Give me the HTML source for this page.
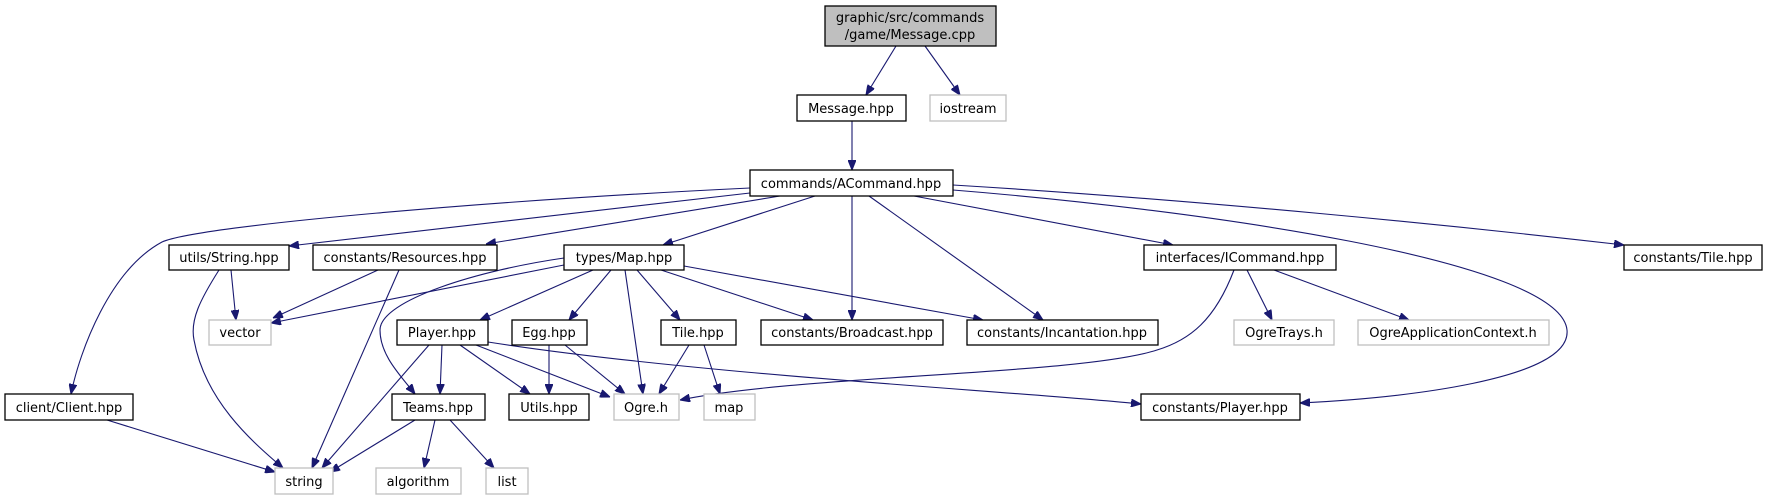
<!DOCTYPE html>
<html><head><meta charset="utf-8"><style>
html,body{margin:0;padding:0;background:#fff;}
svg{display:block;}
text{font-family:"DejaVu Sans","Liberation Sans",sans-serif;font-size:13px;fill:#000;}
.n{fill:#fff;stroke:#000;stroke-width:1.3;}
.g{fill:#fff;stroke:#bfbfbf;stroke-width:1.3;}
.e{fill:none;stroke:#191970;stroke-width:1.1;}
</style></head><body>
<svg width="1767" height="500" viewBox="0 0 1767 500" xmlns="http://www.w3.org/2000/svg">
<defs><marker id="a" viewBox="0 0 10 8" refX="10" refY="4" markerWidth="10" markerHeight="8" markerUnits="userSpaceOnUse" orient="auto"><path d="M0,0 L10,4 L0,8 z" fill="#191970" stroke="#191970"/></marker></defs>
<g class="e" marker-end="url(#a)">
<path d="M896,46 L866,95"/>
<path d="M925,46 L960,95"/>
<path d="M852,121 L852,170"/>
<path d="M750,188 C500,200 200,225 162,242 C110,270 80,350 71,394"/>
<path d="M750,193 L289,246"/>
<path d="M780,196 L486,244"/>
<path d="M815,196 L663,245"/>
<path d="M852,196 L852,320"/>
<path d="M869,196 L1043,320"/>
<path d="M914,196 L1173,245"/>
<path d="M953,185 C1200,200 1450,225 1624,245"/>
<path d="M953,190 C1200,210 1560,260 1567,330 C1572,380 1400,398 1300,403"/>
<path d="M564,265 L271,323"/>
<path d="M564,258 C480,270 380,300 380,330 C380,355 400,375 415,394"/>
<path d="M593,270 L480,320"/>
<path d="M611,270 L569,320"/>
<path d="M625,270 L643,394"/>
<path d="M637,270 L680,320"/>
<path d="M661,270 L813,320"/>
<path d="M684,266 L983,320"/>
<path d="M231,270 L236,320"/>
<path d="M219,270 C200,300 190,320 194,340 C205,400 250,440 283,468"/>
<path d="M378,270 L273,318"/>
<path d="M399,270 L312,468"/>
<path d="M429,345 L322,468"/>
<path d="M442,345 L440,394"/>
<path d="M460,345 L530,394"/>
<path d="M476,345 L610,397"/>
<path d="M488,342 C700,375 1000,390 1141,404"/>
<path d="M549,345 L549,394"/>
<path d="M565,345 L625,394"/>
<path d="M689,345 L659,394"/>
<path d="M704,345 L720,394"/>
<path d="M1234,270 C1215,320 1190,340 1157,350 C1080,375 800,375 680,400"/>
<path d="M1247,270 L1272,320"/>
<path d="M1274,270 L1409,320"/>
<path d="M107,420 L275,472"/>
<path d="M415,420 L330,472"/>
<path d="M435,420 L424,468"/>
<path d="M450,420 L494,468"/>
</g>
<rect x="825" y="6" width="171" height="40" fill="#bfbfbf" stroke="#000" stroke-width="1.3"/>
<text x="910" y="22" text-anchor="middle">graphic/src/commands</text>
<text x="910" y="39" text-anchor="middle">/game/Message.cpp</text>
<g>
<rect class="n" x="797" y="95" width="109" height="26"/><text x="851" y="113" text-anchor="middle">Message.hpp</text>
<rect class="g" x="930" y="95" width="76" height="26"/><text x="968" y="113" text-anchor="middle">iostream</text>
<rect class="n" x="750" y="170" width="203" height="26"/><text x="851" y="188" text-anchor="middle">commands/ACommand.hpp</text>
<rect class="n" x="169" y="245" width="120" height="25"/><text x="229" y="262" text-anchor="middle">utils/String.hpp</text>
<rect class="n" x="313" y="245" width="184" height="25"/><text x="405" y="262" text-anchor="middle">constants/Resources.hpp</text>
<rect class="n" x="564" y="245" width="120" height="25"/><text x="624" y="262" text-anchor="middle">types/Map.hpp</text>
<rect class="n" x="1144" y="245" width="192" height="25"/><text x="1240" y="262" text-anchor="middle">interfaces/ICommand.hpp</text>
<rect class="n" x="1624" y="245" width="138" height="25"/><text x="1693" y="262" text-anchor="middle">constants/Tile.hpp</text>
<rect class="g" x="209" y="320" width="62" height="25"/><text x="240" y="337" text-anchor="middle">vector</text>
<rect class="n" x="397" y="320" width="91" height="25"/><text x="442" y="337" text-anchor="middle">Player.hpp</text>
<rect class="n" x="512" y="320" width="75" height="25"/><text x="549" y="337" text-anchor="middle">Egg.hpp</text>
<rect class="n" x="661" y="320" width="75" height="25"/><text x="698" y="337" text-anchor="middle">Tile.hpp</text>
<rect class="n" x="761" y="320" width="182" height="25"/><text x="852" y="337" text-anchor="middle">constants/Broadcast.hpp</text>
<rect class="n" x="967" y="320" width="191" height="25"/><text x="1062" y="337" text-anchor="middle">constants/Incantation.hpp</text>
<rect class="g" x="1234" y="320" width="100" height="25"/><text x="1284" y="337" text-anchor="middle">OgreTrays.h</text>
<rect class="g" x="1358" y="320" width="191" height="25"/><text x="1453" y="337" text-anchor="middle">OgreApplicationContext.h</text>
<rect class="n" x="5" y="394" width="128" height="26"/><text x="69" y="412" text-anchor="middle">client/Client.hpp</text>
<rect class="n" x="392" y="394" width="93" height="26"/><text x="438" y="412" text-anchor="middle">Teams.hpp</text>
<rect class="n" x="509" y="394" width="80" height="26"/><text x="549" y="412" text-anchor="middle">Utils.hpp</text>
<rect class="g" x="614" y="394" width="65" height="26"/><text x="646" y="412" text-anchor="middle">Ogre.h</text>
<rect class="g" x="704" y="394" width="51" height="26"/><text x="729" y="412" text-anchor="middle">map</text>
<rect class="n" x="1141" y="394" width="159" height="26"/><text x="1220" y="412" text-anchor="middle">constants/Player.hpp</text>
<rect class="g" x="275" y="468" width="58" height="26"/><text x="304" y="486" text-anchor="middle">string</text>
<rect class="g" x="376" y="468" width="85" height="26"/><text x="418" y="486" text-anchor="middle">algorithm</text>
<rect class="g" x="486" y="468" width="42" height="26"/><text x="507" y="486" text-anchor="middle">list</text>
</g>
</svg>
</body></html>
